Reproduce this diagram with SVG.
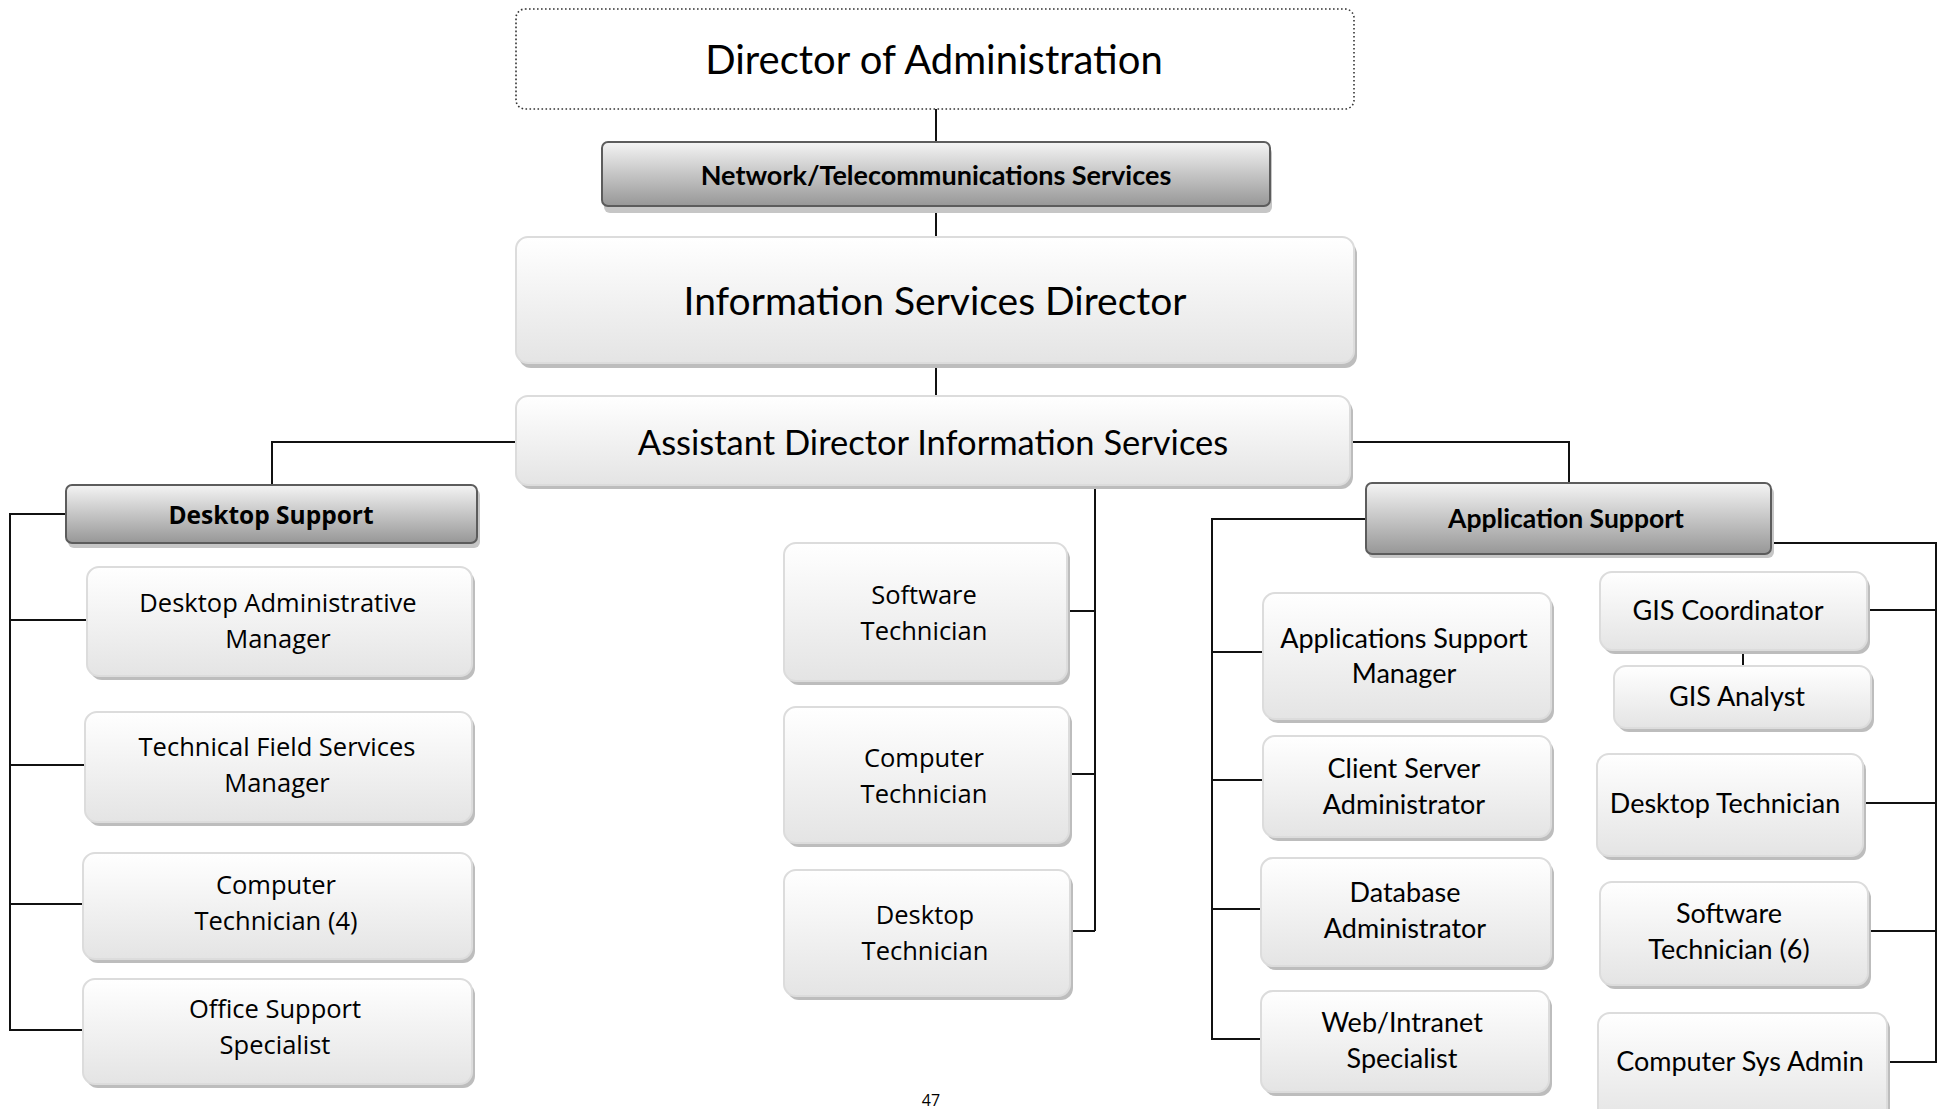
<svg xmlns="http://www.w3.org/2000/svg" width="1939" height="1109" viewBox="0 0 1939 1109">
<defs>
<linearGradient id="gLight" x1="0" y1="0" x2="0" y2="1">
<stop offset="0" stop-color="#ffffff"/>
<stop offset="1" stop-color="#e4e4e4"/>
</linearGradient>
<linearGradient id="gDark" x1="0" y1="0" x2="0" y2="1">
<stop offset="0" stop-color="#f4f4f4"/>
<stop offset="1" stop-color="#979797"/>
</linearGradient>
</defs>
<style>
.bg{fill:#ffffff}
.lb{fill:url(#gLight);stroke:#dcdcdc;stroke-width:2}
.ls{fill:#bdbdbd}
.db{fill:url(#gDark);stroke:#5c5c5c;stroke-width:2}
.ds{fill:#c6c6c6}
.dot{fill:#ffffff;stroke:#333;stroke-width:1.6;stroke-dasharray:1.6 2.4}
.cn{fill:none;stroke:#111;stroke-width:2}
text{fill:#000;text-anchor:middle}
.c{font-family:Lato,"Liberation Sans",sans-serif}
.cb{font-family:Lato,"Liberation Sans",sans-serif;font-weight:bold}
.o{font-family:"Open Sans","Noto Sans",sans-serif}
.ob{font-family:"Open Sans","Noto Sans",sans-serif;font-weight:bold}
</style>
<rect class="bg" x="0" y="0" width="1939" height="1109"/>

<g id="connectors">
<path class="cn" d="M936 109V142M936 206V237M936 363V396"/>
<path class="cn" d="M516 442H272V485"/>
<path class="cn" d="M1351 442H1569V483"/>
<path class="cn" d="M1095 485V931M1067 611H1095M1069 774H1095M1070 931H1095"/>
<path class="cn" d="M66 514H10V1030H83M10 620H87M10 765H85M10 904H83"/>
<path class="cn" d="M1366 519H1212V1039H1261M1212 652H1263M1212 780H1263M1212 909H1261"/>
<path class="cn" d="M1771 543H1936V1062H1887M1867 610H1936M1863 803H1936M1868 931H1936"/>
<path class="cn" d="M1743 650V666"/>
</g>

<g id="director-admin">
<rect class="dot" x="516" y="9" width="838" height="100" rx="9"/>
<text class="c" x="934" y="74" font-size="40">Director of Administration</text>
</g>

<g id="network-telecom">
<rect class="ds" x="604" y="147" width="668" height="66" rx="6"/>
<rect class="db" x="602" y="142" width="668" height="64" rx="6"/>
<text class="cb" x="936" y="185" font-size="27">Network/Telecommunications Services</text>
</g>

<g id="is-director">
<rect class="ls" x="519" y="242" width="838" height="126" rx="12"/>
<rect class="lb" x="516" y="237" width="838" height="126" rx="12"/>
<text class="c" x="935" y="315" font-size="39">Information Services Director</text>
</g>

<g id="assistant-director">
<rect class="ls" x="519" y="400" width="834" height="89" rx="12"/>
<rect class="lb" x="516" y="396" width="834" height="89" rx="12"/>
<text class="c" x="933" y="455" font-size="34.5">Assistant Director Information Services</text>
</g>

<g id="desktop-support">
<rect class="ds" x="68" y="489" width="412" height="59" rx="6"/>
<rect class="db" x="66" y="485" width="411" height="58" rx="6"/>
<text class="ob" x="271" y="524" font-size="24.5">Desktop Support</text>
</g>

<g id="desktop-admin-mgr">
<rect class="ls" x="90" y="571" width="385" height="109" rx="12"/>
<rect class="lb" x="87" y="567" width="385" height="109" rx="12"/>
<text class="o" x="278" y="612" font-size="25.5">Desktop Administrative</text>
<text class="o" x="278" y="648" font-size="25.5">Manager</text>
</g>

<g id="tech-field-mgr">
<rect class="ls" x="88" y="716" width="387" height="110" rx="12"/>
<rect class="lb" x="85" y="712" width="387" height="110" rx="12"/>
<text class="o" x="277" y="756" font-size="25.5">Technical Field Services</text>
<text class="o" x="277" y="792" font-size="25.5">Manager</text>
</g>

<g id="computer-tech-4">
<rect class="ls" x="86" y="857" width="389" height="106" rx="12"/>
<rect class="lb" x="83" y="853" width="389" height="106" rx="12"/>
<text class="o" x="276" y="894" font-size="25.5">Computer</text>
<text class="o" x="276" y="930" font-size="25.5">Technician (4)</text>
</g>

<g id="office-support">
<rect class="ls" x="86" y="983" width="389" height="105" rx="12"/>
<rect class="lb" x="83" y="979" width="389" height="105" rx="12"/>
<text class="o" x="275" y="1018" font-size="25.5">Office Support</text>
<text class="o" x="275" y="1054" font-size="25.5">Specialist</text>
</g>

<g id="software-tech">
<rect class="ls" x="787" y="547" width="283" height="138" rx="12"/>
<rect class="lb" x="784" y="543" width="283" height="138" rx="12"/>
<text class="o" x="924" y="604" font-size="25.5">Software</text>
<text class="o" x="924" y="640" font-size="25.5">Technician</text>
</g>

<g id="computer-tech">
<rect class="ls" x="787" y="711" width="285" height="136" rx="12"/>
<rect class="lb" x="784" y="707" width="285" height="136" rx="12"/>
<text class="o" x="924" y="767" font-size="25.5">Computer</text>
<text class="o" x="924" y="803" font-size="25.5">Technician</text>
</g>

<g id="desktop-tech">
<rect class="ls" x="787" y="874" width="286" height="126" rx="12"/>
<rect class="lb" x="784" y="870" width="286" height="126" rx="12"/>
<text class="o" x="925" y="924" font-size="25.5">Desktop</text>
<text class="o" x="925" y="960" font-size="25.5">Technician</text>
</g>

<g id="application-support">
<rect class="ds" x="1368" y="487" width="406" height="71" rx="6"/>
<rect class="db" x="1366" y="483" width="405" height="71" rx="6"/>
<text class="cb" x="1566" y="528" font-size="26.5">Application Support</text>
</g>

<g id="apps-support-mgr">
<rect class="ls" x="1266" y="597" width="288" height="126" rx="12"/>
<rect class="lb" x="1263" y="593" width="288" height="126" rx="12"/>
<text class="c" x="1404" y="648" font-size="27">Applications Support</text>
<text class="c" x="1404" y="683" font-size="27">Manager</text>
</g>

<g id="client-server-admin">
<rect class="ls" x="1266" y="740" width="288" height="101" rx="12"/>
<rect class="lb" x="1263" y="736" width="288" height="101" rx="12"/>
<text class="c" x="1404" y="778" font-size="27">Client Server</text>
<text class="c" x="1404" y="814" font-size="27">Administrator</text>
</g>

<g id="database-admin">
<rect class="ls" x="1264" y="862" width="290" height="108" rx="12"/>
<rect class="lb" x="1261" y="858" width="290" height="108" rx="12"/>
<text class="c" x="1405" y="902" font-size="27">Database</text>
<text class="c" x="1405" y="938" font-size="27">Administrator</text>
</g>

<g id="web-intranet">
<rect class="ls" x="1264" y="995" width="288" height="101" rx="12"/>
<rect class="lb" x="1261" y="991" width="288" height="101" rx="12"/>
<text class="c" x="1402" y="1032" font-size="27">Web/Intranet</text>
<text class="c" x="1402" y="1068" font-size="27">Specialist</text>
</g>

<g id="gis-coordinator">
<rect class="ls" x="1603" y="576" width="267" height="78" rx="12"/>
<rect class="lb" x="1600" y="572" width="267" height="78" rx="12"/>
<text class="c" x="1728" y="620" font-size="27">GIS Coordinator</text>
</g>

<g id="gis-analyst">
<rect class="ls" x="1617" y="670" width="257" height="62" rx="12"/>
<rect class="lb" x="1614" y="666" width="257" height="62" rx="12"/>
<text class="c" x="1737" y="706" font-size="27">GIS Analyst</text>
</g>

<g id="desktop-technician-app">
<rect class="ls" x="1600" y="758" width="266" height="102" rx="12"/>
<rect class="lb" x="1597" y="754" width="266" height="102" rx="12"/>
<text class="c" x="1725" y="813" font-size="27">Desktop Technician</text>
</g>

<g id="software-tech-6">
<rect class="ls" x="1603" y="886" width="268" height="103" rx="12"/>
<rect class="lb" x="1600" y="882" width="268" height="103" rx="12"/>
<text class="c" x="1729" y="923" font-size="27">Software</text>
<text class="c" x="1729" y="959" font-size="27">Technician (6)</text>
</g>

<g id="computer-sys-admin">
<rect class="ls" x="1601" y="1017" width="289" height="110" rx="12"/>
<rect class="lb" x="1598" y="1013" width="289" height="110" rx="12"/>
<text class="c" x="1740" y="1071" font-size="27">Computer Sys Admin</text>
</g>

<text class="o" x="931" y="1106" font-size="16">47</text>
</svg>
